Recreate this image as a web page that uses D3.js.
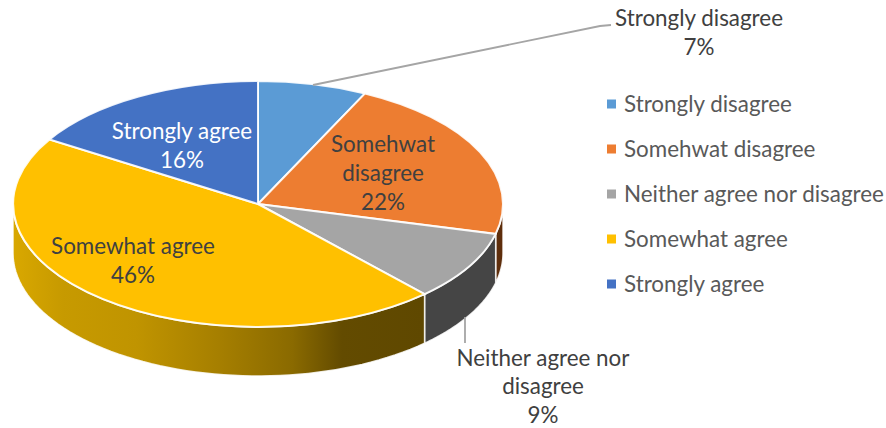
<!DOCTYPE html>
<html><head><meta charset="utf-8">
<script src="https://cdn.jsdelivr.net/npm/d3@7"></script>
<style>html,body{margin:0;padding:0;background:#fff}svg{display:block}text{font-family:Lato,sans-serif;fill:#404040}</style>
</head><body><svg id="c" width="886" height="428"></svg>
<script>
const categories = ["Strongly disagree","Somehwat disagree","Neither agree nor disagree","Somewhat agree","Strongly agree"];
const values = [7.2,21.7,9.2,45.7,16.2];
const topColors = ["#5b9bd5","#ed7d31","#a5a5a5","#ffc000","#4472c4"];
const labelLines = [["Strongly disagree","7%"],["Somehwat","disagree","22%"],["Neither agree nor","disagree","9%"],["Somewhat agree","46%"],["Strongly agree","16%"]];

const W=886,H=428, cx=258, cy=204, rx=245, ry=123, depth=49;
const svg=d3.select("#c");
const defs=svg.append("defs");
const grad=defs.append("linearGradient").attr("id","yw").attr("gradientUnits","userSpaceOnUse")
  .attr("x1",cx-rx).attr("x2",424).attr("y1",0).attr("y2",0);
[[0,"#d9a800"],[.12,"#c79a00"],[.3,"#c09400"],[.5,"#a67f00"],[.68,"#8a6a00"],[.8,"#634b00"],[1,"#5f4800"]]
 .forEach(s=>grad.append("stop").attr("offset",s[0]).attr("stop-color",s[1]));

const pie=d3.pie().sort(null).value(d=>d)(values);
const px=d3.scaleLinear().domain([-1,1]).range([cx-rx,cx+rx]);
const py=d3.scaleLinear().domain([-1,1]).range([cy-ry,cy+ry]);
const wallColors=["none","#5e2e0c","#454545","url(#yw)","none"];

function wallPath(a0,a1){
  const n=60, pts=d3.range(n+1).map(i=>a0+(a1-a0)*i/n);
  const top=pts.map(a=>[px(Math.sin(a)),py(-Math.cos(a))]);
  const bot=top.slice().reverse().map(p=>[p[0],p[1]+depth]);
  return d3.line()(top.concat(bot))+"Z";
}
const walls=svg.append("g");
pie.forEach((d,i)=>{
  const a0=Math.max(d.startAngle,Math.PI/2), a1=Math.min(d.endAngle,Math.PI*1.5);
  if(a1<=a0) return;
  walls.append("path").attr("d",wallPath(a0,a1)).attr("fill",wallColors[i]).attr("stroke","#fff").attr("stroke-opacity",.85).attr("stroke-width",1.5);
});

const arc=d3.arc().innerRadius(0).outerRadius(1);
svg.append("g").attr("transform",`translate(${cx},${cy}) scale(${rx},${ry})`)
 .selectAll("path").data(pie).join("path").attr("d",arc)
 .attr("fill",(d,i)=>topColors[i]).attr("stroke","#fff").attr("stroke-width",2)
 .attr("stroke-opacity",.9).attr("vector-effect","non-scaling-stroke");

const lead=d3.line();
const leaders=[[[313,85],[600,26],[611,25]],[[465,317],[465,343]]];
svg.append("g").selectAll("path").data(leaders).join("path").attr("d",d=>lead(d))
 .attr("fill","none").attr("stroke","#a5a5a5").attr("stroke-width",1.8);

const labelX=[699,383,543,133,182], labelY=[26,152,365.5,254,139], lh=28.8, fs=22.4;
labelLines.forEach((lines,i)=>{
  const t=svg.append("text").attr("text-anchor","middle").attr("font-size",fs);
  if(i===4) t.style("fill","#fff");
  lines.forEach((s,j)=>t.append("tspan").attr("x",labelX[i]).attr("y",labelY[i]+j*lh).text(s));
});

const ly=d3.scalePoint().domain(categories).range([104,284]);
const leg=svg.append("g").selectAll("g").data(categories).join("g");
leg.append("rect").attr("x",607).attr("y",d=>ly(d)-4.5).attr("width",9).attr("height",9).attr("fill",(d,i)=>topColors[i]);
leg.append("text").attr("x",624).attr("y",d=>ly(d)+8).attr("font-size",fs).style("fill","#595959").text(d=>d);
</script></body></html>
